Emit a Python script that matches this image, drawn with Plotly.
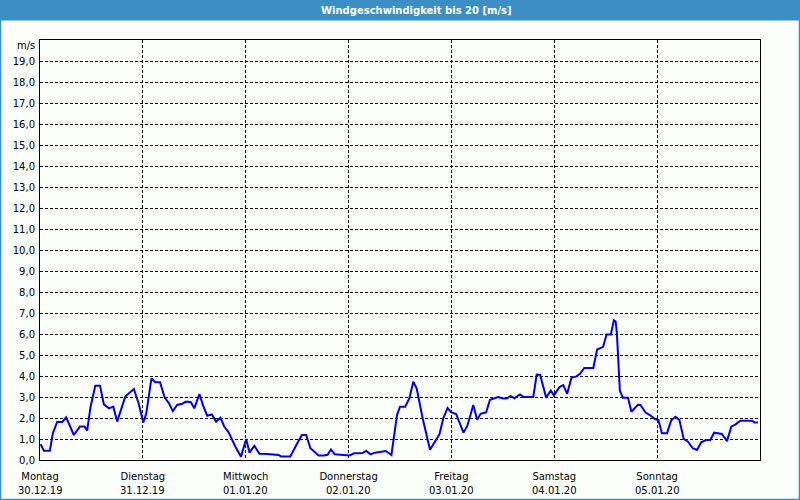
import plotly.graph_objects as go

# ---- data (hours since Monday 30.12.19 00:00, wind speed m/s) ----
hours = [0.15, 0.9, 2.3, 3.0, 4.0, 5.2, 6.1, 7.1, 7.9, 9.3, 10.4, 11.0, 11.8, 12.9, 14.0,
         14.9, 16.1, 17.1, 18.0, 19.9, 21.9, 23.0, 24.1, 24.8, 26.0, 26.9, 28.0, 29.1,
         30.1, 31.0, 32.0, 33.2, 34.1, 35.2, 36.0, 37.2, 38.0, 39.0, 40.1, 41.1, 42.1,
         43.0, 44.0, 45.6, 46.9, 48.1, 48.9, 50.0, 51.2, 53.0, 55.7, 56.2, 58.4, 60.0,
         61.1, 62.1, 63.1, 65.0, 66.2, 67.1, 67.9, 68.8, 72.2, 73.3, 75.3, 76.1, 77.1,
         78.2, 80.7, 82.0, 82.7, 83.3, 84.0, 85.2, 86.2, 87.1, 87.9, 89.3, 91.0, 92.0,
         93.2, 94.1, 95.1, 95.9, 97.1, 98.8, 99.7, 101.1, 102.0, 102.8, 104.1, 105.0,
         106.2, 106.9, 108.1, 108.9, 109.8, 110.7, 112.0, 112.9, 115.1, 115.9, 116.7,
         118.1, 119.2, 119.9, 121.2, 122.1, 123.0, 124.0, 125.2, 126.0, 127.0, 129.1,
         130.0, 131.4, 132.2, 133.2, 133.9, 134.3, 134.6, 135.0, 135.3, 136.0, 137.2,
         138.0, 139.5, 140.1, 141.3, 142.3, 143.5, 144.3, 145.1, 146.3, 147.3, 148.3,
         149.2, 150.2, 151.2, 152.3, 153.3, 154.3, 155.4, 156.4, 157.3, 159.1, 160.3,
         161.3, 162.3, 163.4, 166.1, 166.7, 167.5]
speed = [0.75, 0.44, 0.44, 1.27, 1.81, 1.81, 2.03, 1.59, 1.19, 1.59, 1.59, 1.40, 2.54, 3.54, 3.54,
         2.65, 2.46, 2.54, 1.83, 3.02, 3.38, 2.70, 1.79, 2.22, 3.89, 3.70, 3.70, 2.97,
         2.70, 2.33, 2.62, 2.68, 2.78, 2.75, 2.46, 3.14, 2.62, 2.11, 2.17, 1.83, 2.02,
         1.59, 1.32, 0.63, 0.16, 1.00, 0.35, 0.68, 0.30, 0.29, 0.24, 0.17, 0.17, 0.79,
         1.19, 1.19, 0.56, 0.21, 0.21, 0.25, 0.50, 0.27, 0.22, 0.32, 0.33, 0.44, 0.27,
         0.35, 0.43, 0.24, 1.35, 2.14, 2.54, 2.54, 2.94, 3.73, 3.40, 1.98, 0.49, 0.85,
         1.22, 1.98, 2.48, 2.28, 2.19, 1.30, 1.62, 2.62, 1.92, 2.20, 2.27, 2.87,
         2.93, 3.00, 2.93, 2.93, 3.05, 2.94, 3.12, 3.00, 3.00, 4.07, 4.05,
         2.97, 3.31, 3.08, 3.47, 3.57, 3.15, 3.91, 3.98, 4.10, 4.38, 4.38,
         5.26, 5.39, 5.98, 5.98, 6.65, 6.60, 6.05, 4.00, 3.30, 2.97, 2.97,
         2.30, 2.63, 2.62, 2.26, 2.14, 1.95, 1.90, 1.27, 1.27, 1.90, 2.06,
         1.90, 1.00, 0.87, 0.56, 0.48, 0.84, 0.95, 0.95, 1.30, 1.24, 0.90,
         1.59, 1.70, 1.87, 1.87, 1.79, 1.79]

day_hours = [0, 24, 48, 72, 96, 120, 144]
day_names = ["Montag", "Dienstag", "Mittwoch", "Donnerstag", "Freitag", "Samstag", "Sonntag"]
day_dates = ["30.12.19", "31.12.19", "01.01.20", "02.01.20", "03.01.20", "04.01.20", "05.01.20"]
y_ticks = list(range(0, 20))
y_labels = [f"{v},0" for v in y_ticks]

TITLE = "Windgeschwindigkeit bis 20 [m/s]"
BLUE = "#3b8fc4"
FONT = "DejaVu Sans"

W, H = 800, 500
L, R, T, B = 40, 40, 40, 40
PW, PH = W - L - R, H - T - B


def px_x(p):
    return (p - L) / PW


def px_y(p):
    return (H - B - p) / PH


fig = go.Figure()
fig.add_trace(go.Scatter(x=hours, y=speed, mode="lines",
                         line=dict(color="#0000f0", width=2), hoverinfo="skip"))

fig.update_layout(
    width=W, height=H,
    margin=dict(l=L, r=R, t=T, b=B),
    paper_bgcolor="#fcfefc", plot_bgcolor="#fcfefc",
    showlegend=False,
    font=dict(family=FONT, size=10, color="#000000"),
    xaxis=dict(range=[0, 168], tickvals=day_hours, ticktext=day_names,
               showgrid=True, gridcolor="#000000", gridwidth=1, griddash="3px,2px",
               showline=True, linecolor="#000000", linewidth=1, mirror=True,
               zeroline=False, ticks="", ticklabelstandoff=7, fixedrange=True),
    yaxis=dict(range=[0, 20], tickvals=y_ticks, ticktext=y_labels,
               showgrid=True, gridcolor="#000000", gridwidth=1, griddash="3px,2px",
               showline=True, linecolor="#000000", linewidth=1, mirror=True,
               zeroline=False, ticks="", ticklabelstandoff=2, fixedrange=True),
)

shapes = [
    dict(type="rect", xref="paper", yref="paper", x0=px_x(0), x1=px_x(W),
         y0=px_y(20.5), y1=px_y(0), fillcolor=BLUE, line=dict(width=0), layer="above"),
    dict(type="line", xref="paper", yref="paper", x0=px_x(0.5), x1=px_x(0.5),
         y0=px_y(0), y1=px_y(H), line=dict(color=BLUE, width=1.5)),
    dict(type="line", xref="paper", yref="paper", x0=px_x(W - 0.5), x1=px_x(W - 0.5),
         y0=px_y(0), y1=px_y(H), line=dict(color=BLUE, width=1.5)),
    dict(type="line", xref="paper", yref="paper", x0=px_x(0), x1=px_x(W),
         y0=px_y(H - 0.5), y1=px_y(H - 0.5), line=dict(color=BLUE, width=1.5)),
]
fig.update_layout(shapes=shapes)

ann = [
    dict(text=f"<b>{TITLE}</b>", xref="paper", yref="paper", x=px_x(416), y=px_y(10),
         xanchor="center", yanchor="middle", showarrow=False,
         font=dict(family=FONT, size=10, color="#ffffff")),
    dict(text="m/s", xref="paper", yref="paper", x=px_x(36.5), y=px_y(46),
         xanchor="right", yanchor="middle", showarrow=False),
]
for h, d in zip(day_hours, day_dates):
    ann.append(dict(text=d, x=h, xref="x", yref="paper", y=px_y(490),
                    xanchor="center", yanchor="middle", showarrow=False))
fig.update_layout(annotations=ann)

fig.write_html("out.html", config={"displayModeBar": False, "staticPlot": True})

# remove the default page margin so the figure fills the window exactly
with open("out.html", "r", encoding="utf-8") as f:
    html = f.read()
html = html.replace("<head>", "<head><style>html,body{margin:0;padding:0;overflow:hidden;}</style>", 1)
with open("out.html", "w", encoding="utf-8") as f:
    f.write(html)
